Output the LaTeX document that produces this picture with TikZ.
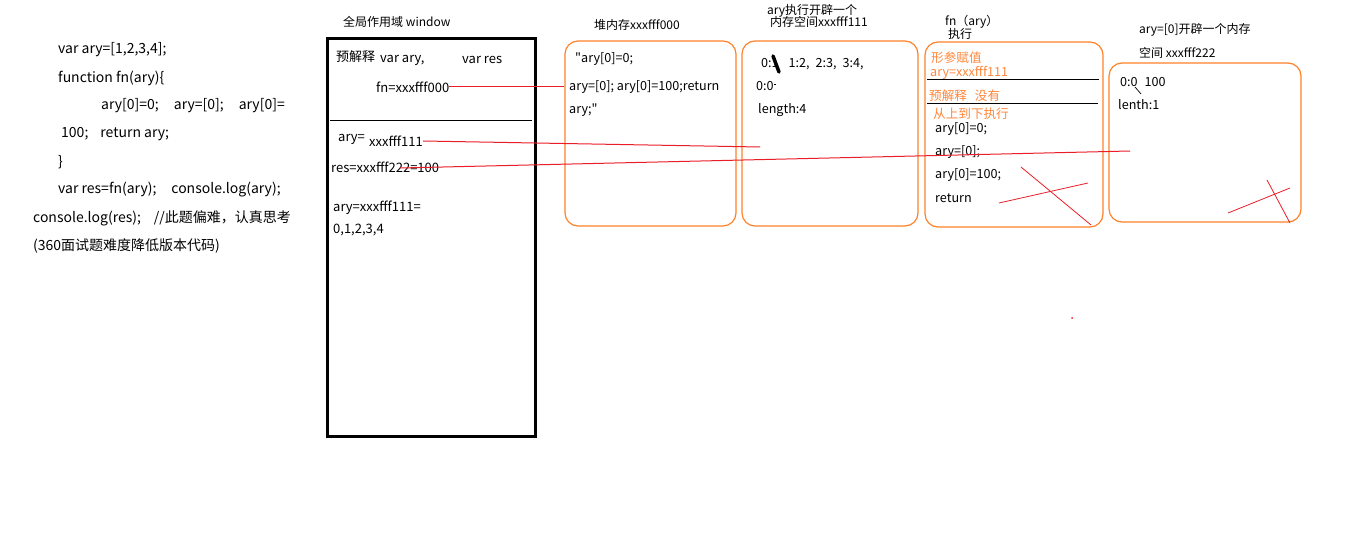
\documentclass[tikz,border=0pt]{standalone}
\usepackage{fontspec}
\newfontfamily\cjk{Noto Sans CJK SC}
\definecolor{boxorange}{RGB}{255,130,40}
\definecolor{txtorange}{RGB}{255,135,60}
\definecolor{linered}{RGB}{235,30,40}
\begin{document}
\begin{tikzpicture}[x=1pt,y=-1pt,
  txt/.style={anchor=west, inner sep=0pt, font=\cjk\fontsize{12}{14}\selectfont},
  btxt/.style={anchor=west, inner sep=0pt, font=\cjk\fontsize{13}{15}\selectfont},
  htxt/.style={anchor=west, inner sep=0pt, font=\cjk\fontsize{12.6}{15}\selectfont},
  code/.style={anchor=west, inner sep=0pt, font=\cjk\fontsize{14}{16}\selectfont},
  otxt/.style={htxt, text=txtorange},
  obox/.style={draw=boxorange, line width=1.2pt, rounded corners=13pt, inner sep=0pt},
  kbox/.style={draw=black, line width=3pt, inner sep=0pt},
  divider/.style={draw=black, line width=1pt},
  redline/.style={draw=linered, line width=1pt},
  cross/.style={draw=linered, line width=0.8pt}]
\useasboundingbox (0,0) rectangle (1360,540);
\fill[white] (0,0) rectangle (1360,540);

% left code
\node[code] (c1) at (58,50) {var ary=[1,2,3,4];};
\node[code] (c2) at (58,78) {function fn(ary)\{};
\node[code] (c3) at (101,106) {ary[0]=0;\hspace{15pt}ary=[0];\hspace{15pt}ary[0]=};
\node[code] (c4) at (61,134) {100;\hspace{12pt}return ary;};
\node[code] (c5) at (58,162) {\}};
\node[code] (c6) at (58,190) {var res=fn(ary);\hspace{15pt}console.log(ary);};
\node[code] (c7) at (33,218) {console.log(res);\hspace{13pt}//此题偏难，认真思考};
\node[code] (c8) at (33,246) {(360面试题难度降低版本代码)};

% global scope
\node[txt] (gtitle) at (343,22) {全局作用域 window};
\node[kbox, minimum width=208pt, minimum height=397pt] (gbox) at (431,237.5) {};
\node[btxt] (pre) at (336,57) {预解释};
\node[btxt] (vary) at (380,60) {var ary,};
\node[btxt] (vres) at (462,60) {var res};
\node[btxt] (fn) at (376,87) {fn=xxxfff000};
\draw[divider] (330,121) -- (532,121);
\node[btxt] (arylbl) at (338,139) {ary=};
\node[btxt] (ary111) at (369,141) {xxxfff111};
\node[btxt] (res) at (331,167) {res=xxxfff222=100};
\node[btxt] (ary2) at (333,208) {ary=xxxfff111=};
\node[btxt] (ary3) at (333,230) {0,1,2,3,4};

% heap xxxfff000
\node[txt] (htitle) at (594,25) {堆内存xxxfff000};
\node[obox, minimum width=171pt, minimum height=185pt] (heap0) at (650.5,133.5) {};
\node[htxt] (h1) at (575,59) {"ary[0]=0;};
\node[htxt] (h2) at (569,87) {ary=[0]; ary[0]=100;return};
\node[htxt] (h3) at (569,110) {ary;"};

% heap xxxfff111
\node[txt] (t3a) at (767,11) {ary执行开辟一个};
\node[txt] (t3b) at (770,22) {内存空间xxxfff111};
\node[obox, minimum width=176pt, minimum height=185pt] (heap1) at (830,133.5) {};
\node[htxt] (a1) at (761,64) {0:1\hspace{10pt}1:2,\hspace{6pt}2:3,\hspace{6pt}3:4,};
\draw[line width=3.5pt, line cap=round] (773,56) -- (779,72);
\node[htxt] (a2) at (756,86) {0:0};
\draw[line width=0.6pt] (774,84) -- (776,84);
\node[htxt] (a3) at (758,110) {length:4};

% fn(ary) execution
\node[txt] (t4a) at (945,22) {fn（ary）};
\node[txt] (t4b) at (948,34) {执行};
\node[obox, minimum width=178pt, minimum height=185pt] (exec) at (1014,134.5) {};
\node[otxt] (e1) at (931,58) {形参赋值};
\node[otxt] (e2) at (930,73) {ary=xxxfff111};
\draw[divider] (927,80) -- (1099,80);
\node[otxt] (e3) at (929,96) {预解释\hspace{8pt}没有};
\draw[divider] (927,104) -- (1098,104);
\node[otxt] (e4) at (933,114) {从上到下执行};
\node[htxt] (e5) at (935,129) {ary[0]=0;};
\node[htxt] (e6) at (935,152) {ary=[0];};
\node[htxt] (e7) at (935,175) {ary[0]=100;};
\node[htxt] (e8) at (935,198) {return};
\draw[cross] (1021,167) -- (1091,225);
\draw[cross] (999,203) -- (1088,183);

% heap xxxfff222
\node[txt] (t5a) at (1139,30) {ary=[0]开辟一个内存};
\node[txt] (t5b) at (1139,53) {空间 xxxfff222};
\node[obox, minimum width=192pt, minimum height=159pt] (heap2) at (1205,142.5) {};
\node[htxt] (b1) at (1120,82) {0:0\hspace{7pt}100};
\draw[line width=0.7pt] (1135,87) -- (1141,94);
\node[htxt] (b2) at (1118,105) {lenth:1};
\draw[cross] (1228,213) -- (1290,188);
\draw[cross] (1267,180) -- (1290,223);

% red pointers
\coordinate (p1end) at (760,147);
\coordinate (p2start) at (400,168);
\coordinate (p2end) at (1130,151);
\draw[redline] (fn.east) -- (heap0.west |- fn.east);
\draw[redline] (ary111.east) -- (p1end);
\draw[redline] (p2start) -- (p2end);

\fill[linered] (1072,318) circle (1pt);
\end{tikzpicture}
\end{document}
